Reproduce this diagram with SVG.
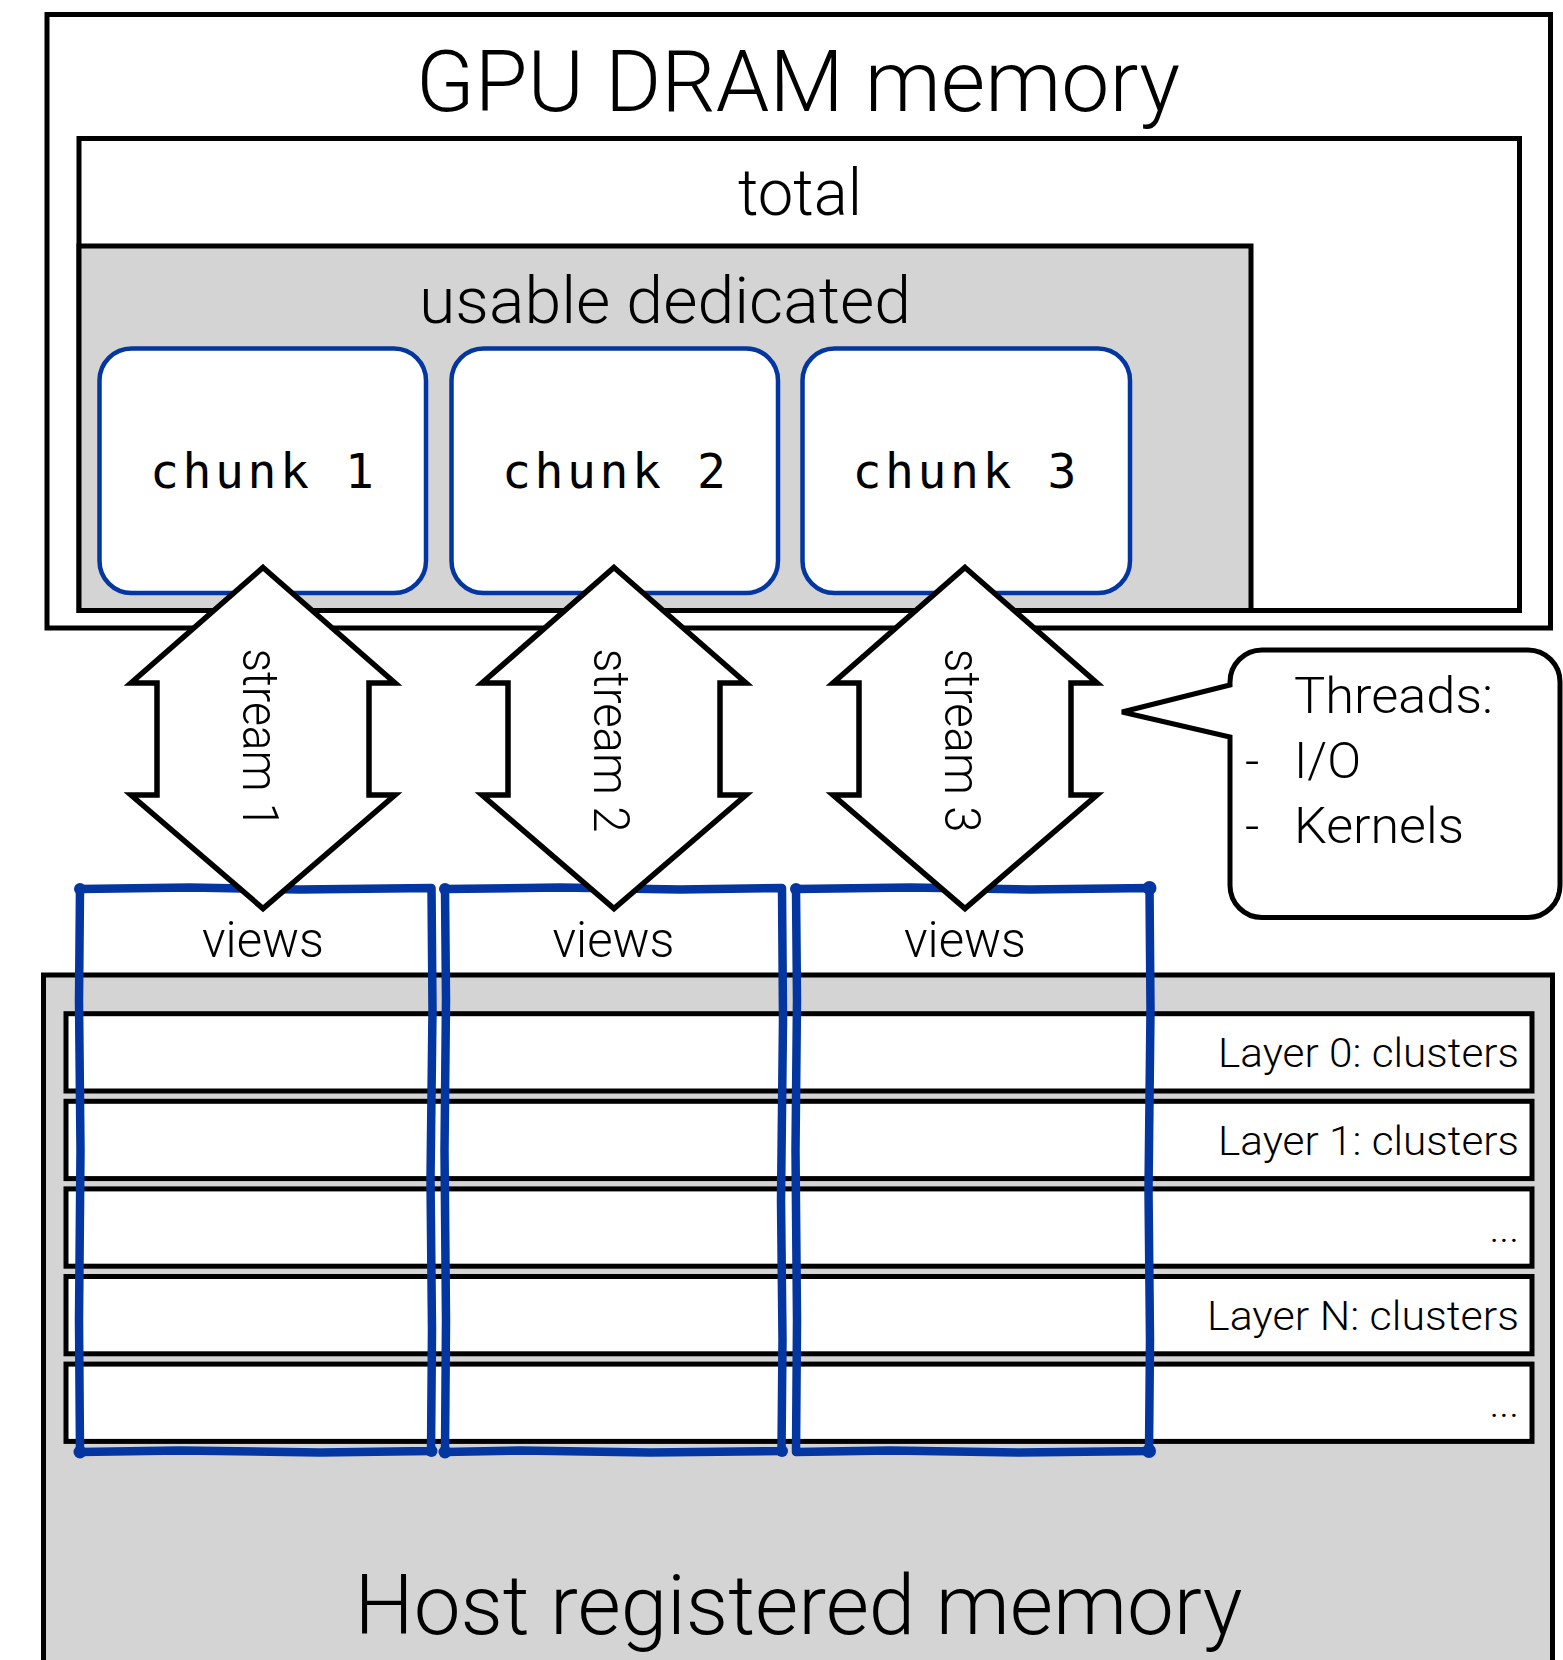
<svg xmlns="http://www.w3.org/2000/svg" width="1563" height="1660" viewBox="0 0 1563 1660">
<style>
.box{stroke:#000;stroke-width:5}
.white{fill:#fff}
.gray{fill:#d4d4d4}
.chunk{fill:#fff;stroke:#0336a0;stroke-width:4.5}
.arrow{fill:#fff;stroke:#000;stroke-width:5.5;stroke-linejoin:miter;stroke-miterlimit:10}
.view{fill:none;stroke:#0336a0;stroke-width:8.5;stroke-linejoin:round;stroke-linecap:round}
.dot{fill:#0336a0}
.t{font-family:Roboto,"Liberation Sans",Arial,sans-serif;font-weight:300;fill:#000}
.mono{font-family:"DejaVu Sans Mono","Liberation Mono",monospace;font-size:48px;letter-spacing:3.6px;fill:#000}
.layer{font-size:41px;text-anchor:end}
.mid{text-anchor:middle}
</style>
<rect x="0" y="0" width="1563" height="1660" fill="#fff"/>

<g id="gpu-dram">
  <rect class="box white" x="47" y="14.5" width="1503.5" height="613.5"/>
  <text class="t mid" x="798" y="111" font-size="85" textLength="764" lengthAdjust="spacingAndGlyphs">GPU DRAM memory</text>
</g>
<g id="total">
  <rect class="box white" x="79" y="138.5" width="1440.5" height="472"/>
  <text class="t mid" x="800" y="215" font-size="65" textLength="124" lengthAdjust="spacingAndGlyphs">total</text>
</g>
<g id="usable-dedicated">
  <rect class="box gray" x="79" y="246" width="1172" height="364.5"/>
  <text class="t mid" x="665" y="323" font-size="65" textLength="492" lengthAdjust="spacingAndGlyphs">usable dedicated</text>
</g>
<g id="chunk-1">
  <rect class="chunk" x="99.5" y="348.5" width="326.5" height="244.5" rx="32" ry="32"/>
  <text class="mono" x="150" y="487.5">chunk 1</text>
</g>
<g id="chunk-2">
  <rect class="chunk" x="451.5" y="348.5" width="326.5" height="244.5" rx="32" ry="32"/>
  <text class="mono" x="502" y="487.5">chunk 2</text>
</g>
<g id="chunk-3">
  <rect class="chunk" x="802.5" y="348.5" width="327.5" height="244.5" rx="32" ry="32"/>
  <text class="mono" x="852.5" y="487.5">chunk 3</text>
</g>

<g id="host-memory">
  <rect class="box gray" x="43.5" y="975" width="1509" height="720"/>
  <text class="t mid" x="798.5" y="1634" font-size="84" textLength="888" lengthAdjust="spacingAndGlyphs">Host registered memory</text>
</g>
<g id="layer-0">
  <rect class="box white" x="66" y="1013.7" width="1466" height="77.3"/>
  <text class="t layer" x="1519" y="1066.5" textLength="301" lengthAdjust="spacingAndGlyphs">Layer 0: clusters</text>
</g>
<g id="layer-1">
  <rect class="box white" x="66" y="1101.3" width="1466" height="77.3"/>
  <text class="t layer" x="1519" y="1154.5" textLength="301" lengthAdjust="spacingAndGlyphs">Layer 1: clusters</text>
</g>
<g id="layer-dots-1">
  <rect class="box white" x="66" y="1188.9" width="1466" height="77.3"/>
  <text class="t layer" x="1519" y="1242">...</text>
</g>
<g id="layer-n">
  <rect class="box white" x="66" y="1276.5" width="1466" height="77.3"/>
  <text class="t layer" x="1519" y="1330" textLength="312" lengthAdjust="spacingAndGlyphs">Layer N: clusters</text>
</g>
<g id="layer-dots-2">
  <rect class="box white" x="66" y="1364.1" width="1466" height="77.3"/>
  <text class="t layer" x="1519" y="1417">...</text>
</g>

<g id="views-1">
  <path class="view" d="M80 889 L190 887.5 L300 889.5 L431.5 888 L432.5 1010 L430.5 1180 L432 1330 L431 1451 L320 1452.5 L180 1450.5 L80 1452 L79 1320 L80.5 1150 L79 1000 Z"/>
  <circle class="dot" cx="80" cy="889" r="6"/><circle class="dot" cx="80" cy="1452" r="6.5"/><circle class="dot" cx="431.5" cy="1451" r="6"/>
  <text class="t mid" x="263" y="957" font-size="50" textLength="122" lengthAdjust="spacingAndGlyphs">views</text>
</g>
<g id="views-2">
  <path class="view" d="M445 889 L560 887.5 L680 889.5 L782 888 L783 1020 L781 1200 L782.5 1340 L781.5 1451 L650 1452.5 L520 1450.5 L445 1452 L446 1320 L444.5 1150 L446 1000 Z"/>
  <circle class="dot" cx="445" cy="889" r="6"/><circle class="dot" cx="445" cy="1452" r="6.5"/><circle class="dot" cx="782" cy="1451" r="6"/>
  <text class="t mid" x="613.5" y="957" font-size="50" textLength="122" lengthAdjust="spacingAndGlyphs">views</text>
</g>
<g id="views-3">
  <path class="view" d="M796 889 L910 887.5 L1030 889.5 L1149.5 888 L1150.5 1010 L1148.5 1190 L1150 1340 L1149 1451 L1020 1452.5 L890 1450.5 L796 1452 L797 1320 L795.5 1150 L797 1000 Z"/>
  <circle class="dot" cx="796" cy="889" r="6"/><circle class="dot" cx="1149.5" cy="888" r="7"/><circle class="dot" cx="1149" cy="1451" r="7"/>
  <text class="t mid" x="965" y="957" font-size="50" textLength="122" lengthAdjust="spacingAndGlyphs">views</text>
</g>

<g id="connectors">
  <g id="stream-1">
    <polygon class="arrow" points="263,567.5 395,683 369,683 369,795 395,795 263,908.5 131,795 157,795 157,683 131,683"/>
    <text class="t" font-size="50" transform="translate(243,648.5) rotate(90)" textLength="180" lengthAdjust="spacingAndGlyphs">stream 1</text>
  </g>
  <g id="stream-2">
    <polygon class="arrow" points="614,567.5 746,683 720,683 720,795 746,795 614,908.5 482,795 508,795 508,683 482,683"/>
    <text class="t" font-size="50" transform="translate(594,648.5) rotate(90)" textLength="184" lengthAdjust="spacingAndGlyphs">stream 2</text>
  </g>
  <g id="stream-3">
    <polygon class="arrow" points="965,567.5 1097,683 1071,683 1071,795 1097,795 965,908.5 833,795 859,795 859,683 833,683"/>
    <text class="t" font-size="50" transform="translate(945,648.5) rotate(90)" textLength="184" lengthAdjust="spacingAndGlyphs">stream 3</text>
  </g>
</g>

<g id="threads-callout">
  <path class="box white" d="M1262 650 H1528 A32 32 0 0 1 1560 682 V885.5 A32 32 0 0 1 1528 917.5 H1262 A32 32 0 0 1 1230 885.5 V737 L1122 712 L1230 685 V682 A32 32 0 0 1 1262 650 Z"/>
  <text class="t" font-size="50" x="1294" y="713" textLength="199" lengthAdjust="spacingAndGlyphs">Threads:</text>
  <text class="t" font-size="50" y="778"><tspan x="1245">-</tspan><tspan x="1294">I/O</tspan></text>
  <text class="t" font-size="50" y="843"><tspan x="1245">-</tspan><tspan x="1294" textLength="170" lengthAdjust="spacingAndGlyphs">Kernels</tspan></text>
</g>
</svg>
